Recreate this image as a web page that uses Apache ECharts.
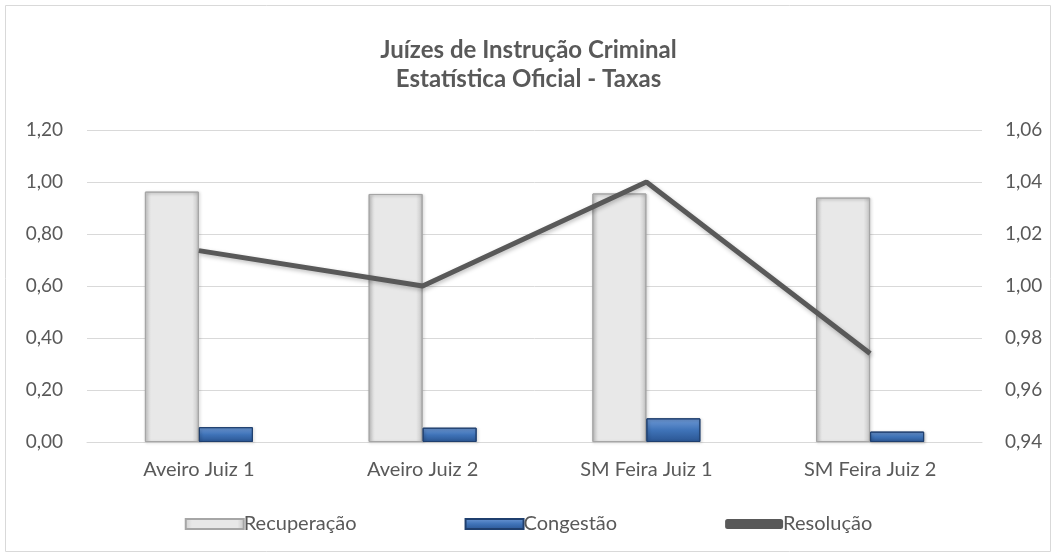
<!DOCTYPE html>
<html>
<head>
<meta charset="utf-8">
<script src="https://cdn.jsdelivr.net/npm/echarts@6/dist/echarts.min.js"></script>
<style>
  html, body { margin: 0; padding: 0; background: #fff; }
  #chart { width: 1057px; height: 558px; }
</style>
</head>
<body>
<div id="chart"></div>
<script>
var categories = ['Aveiro Juiz 1', 'Aveiro Juiz 2', 'SM Feira Juiz 1', 'SM Feira Juiz 2'];
var recuperacao = [0.963, 0.954, 0.956, 0.940];
var congestao = [0.057, 0.055, 0.091, 0.040];
var resolucao = [1.0136, 1.000, 1.040, 0.974];

var chart = echarts.init(document.getElementById('chart'));
var font = 'Lato, "Open Sans", sans-serif';
var txt = '#595959';

function comma(v) {
    return v.toFixed(2).replace('.', ',');
}

var grayBar = new echarts.graphic.LinearGradient(0, 0, 1, 0, [
    { offset: 0, color: '#cfcfcf' },
    { offset: 0.12, color: '#e8e8e8' },
    { offset: 0.88, color: '#e8e8e8' },
    { offset: 1, color: '#c4c4c4' }
]);
var blueBar = new echarts.graphic.LinearGradient(0, 0, 0, 1, [
    { offset: 0, color: '#6f9ad6' },
    { offset: 0.5, color: '#3f73b8' },
    { offset: 1, color: '#2a5592' }
]);

var option = {
    textStyle: { fontFamily: font },
    graphic: [{
        type: 'rect',
        shape: { x: 5.5, y: 5.5, width: 1045, height: 546 },
        style: { fill: 'none', stroke: '#d9d9d9', lineWidth: 1 }
    }],
    title: {
        text: 'Juízes de Instrução Criminal\nEstatística Oficial - Taxas',
        left: 'center',
        top: 31,
        textStyle: {
            color: txt,
            fontSize: 24,
            fontWeight: 'bold',
            fontFamily: font,
            lineHeight: 29
        }
    },
    legend: {
        bottom: 19,
        left: 'center',
        itemWidth: 58,
        itemHeight: 10,
        itemGap: 108,
        textStyle: { color: txt, fontSize: 20, fontFamily: font, padding: [0, 0, 0, -5] },
        data: [
            { name: 'Recuperação', icon: 'rect' },
            { name: 'Congestão', icon: 'rect' },
            { name: 'Resolução', icon: 'roundRect' }
        ]
    },
    grid: {
        left: 87,
        right: 75,
        top: 130,
        bottom: 116
    },
    xAxis: {
        type: 'category',
        data: categories,
        axisTick: { show: false },
        axisLine: { lineStyle: { color: '#d9d9d9', width: 1 } },
        axisLabel: { color: txt, fontSize: 20, margin: 18, fontFamily: font }
    },
    yAxis: [{
        type: 'value',
        min: 0,
        max: 1.2,
        interval: 0.2,
        axisLine: { show: false },
        axisTick: { show: false },
        splitLine: { lineStyle: { color: '#d9d9d9', width: 1 } },
        axisLabel: { color: txt, fontSize: 19, margin: 24, fontFamily: font, formatter: comma }
    }, {
        type: 'value',
        min: 0.94,
        max: 1.06,
        interval: 0.02,
        axisLine: { show: false },
        axisTick: { show: false },
        splitLine: { show: false },
        axisLabel: { color: txt, fontSize: 19, margin: 23, fontFamily: font, formatter: comma }
    }],
    series: [{
        name: 'Recuperação',
        type: 'bar',
        barWidth: 54,
        barGap: '0%',
        data: recuperacao,
        itemStyle: {
            color: grayBar,
            borderColor: '#a6a6a6',
            borderWidth: 1,
            shadowColor: 'rgba(0,0,0,0.25)',
            shadowBlur: 3,
            shadowOffsetX: 1,
            shadowOffsetY: 1
        }
    }, {
        name: 'Congestão',
        type: 'bar',
        barWidth: 54,
        barGap: '0%',
        data: congestao,
        itemStyle: {
            color: blueBar,
            borderColor: '#1f3f6e',
            borderWidth: 1,
            shadowColor: 'rgba(0,0,0,0.25)',
            shadowBlur: 3,
            shadowOffsetX: 1,
            shadowOffsetY: 1
        }
    }, {
        name: 'Resolução',
        type: 'line',
        yAxisIndex: 1,
        data: resolucao,
        symbol: 'none',
        itemStyle: { color: '#595959' },
        lineStyle: {
            color: '#595959',
            width: 5,
            shadowColor: 'rgba(0,0,0,0.25)',
            shadowBlur: 4,
            shadowOffsetX: 1,
            shadowOffsetY: 2
        }
    }]
};

chart.setOption(option);
window.onresize = function () {
    chart.resize();
};
</script>
</body>
</html>
